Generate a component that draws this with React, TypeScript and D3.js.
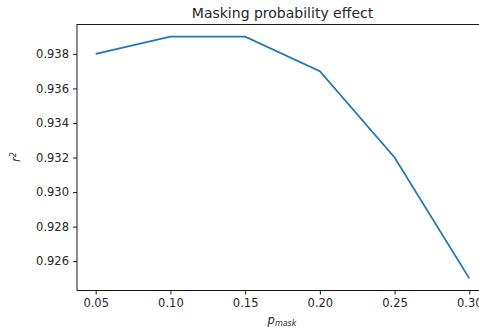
import { useEffect, useRef } from "react";
import * as d3 from "d3";

const width = 479;
const height = 332;
const margin = { top: 24.5, left: 77, right: -9, bottom: 41.5 };

const pMask = [0.05, 0.1, 0.15, 0.2, 0.25, 0.3];
const r2 = [0.938, 0.939, 0.939, 0.937, 0.932, 0.925];
const xTicks = [0.05, 0.1, 0.15, 0.2, 0.25, 0.3];
const yTicks = [0.926, 0.928, 0.93, 0.932, 0.934, 0.936, 0.938];

const font = "DejaVu Sans, sans-serif";
const tickFont = 11.5;

const App = () => {
  const xAxisRef = useRef<SVGGElement>(null);
  const yAxisRef = useRef<SVGGElement>(null);

  const xScale = d3
    .scaleLinear()
    .domain([0.0375, 0.3125])
    .range([margin.left, width - margin.right]);
  const yScale = d3
    .scaleLinear()
    .domain([0.9243, 0.9397])
    .range([height - margin.bottom, margin.top]);

  const line = d3
    .line<number>()
    .x((_, i) => xScale(pMask[i]))
    .y((d) => yScale(d));

  useEffect(() => {
    if (xAxisRef.current) {
      const g = d3.select(xAxisRef.current);
      g.call(
        d3.axisBottom(xScale).tickValues(xTicks).tickFormat(d3.format(".2f")).tickSize(4).tickPadding(4)
      );
      g.select(".domain").remove();
      g.selectAll("text").attr("font-family", font).attr("font-size", tickFont).attr("fill", "#262626");
      g.selectAll("line").attr("stroke", "#000").attr("stroke-width", 0.9);
    }
    if (yAxisRef.current) {
      const g = d3.select(yAxisRef.current);
      g.call(
        d3.axisLeft(yScale).tickValues(yTicks).tickFormat(d3.format(".3f")).tickSize(4).tickPadding(4)
      );
      g.select(".domain").remove();
      g.selectAll("text").attr("font-family", font).attr("font-size", tickFont).attr("fill", "#262626");
      g.selectAll("line").attr("stroke", "#000").attr("stroke-width", 0.9);
    }
  }, []);

  const x0 = margin.left;
  const x1 = width - margin.right;
  const y0 = margin.top;
  const y1 = height - margin.bottom;

  return (
    <svg
      width={width}
      height={height}
      style={{ position: "absolute", left: 0, top: 0, background: "#fff" }}
    >
      <path d={line(r2) ?? undefined} fill="none" stroke="#1f77b4" strokeWidth={1.75} />
      <g ref={xAxisRef} transform={`translate(0, ${y1})`} />
      <g ref={yAxisRef} transform={`translate(${x0}, 0)`} />
      <rect x={x0} y={y0} width={x1 - x0} height={y1 - y0} fill="none" stroke="#000" strokeWidth={0.9} />
      <text x={(x0 + x1) / 2} y={y0 - 7} textAnchor="middle" fontFamily={font} fontSize={14} fill="#262626">
        Masking probability effect
      </text>
      <text
        transform={`translate(20, 157) rotate(-90)`}
        textAnchor="middle"
        fontFamily={font}
        fontSize={11.5}
        fontStyle="italic"
        fill="#262626"
      >
        r<tspan dy={-4.5} fontSize={8}>2</tspan>
      </text>
      <text x={282} y={324} textAnchor="middle" fontFamily={font} fontSize={11.5} fontStyle="italic" fill="#262626">
        p<tspan dy={2} fontSize={8}>mask</tspan>
      </text>
    </svg>
  );
};

export default App;
